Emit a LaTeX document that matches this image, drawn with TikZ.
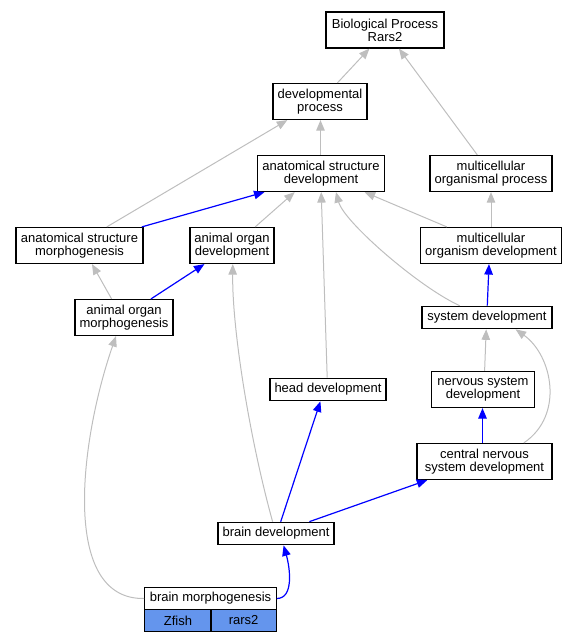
\documentclass[tikz,border=0pt]{standalone}
\usepackage{fontspec}
\setmainfont{Liberation Sans}
\usetikzlibrary{arrows.meta}
\definecolor{edgegray}{RGB}{190,190,190}
\definecolor{cellblue}{RGB}{100,149,237}
\begin{document}
\begin{tikzpicture}[x=1pt,y=-1pt,
  box/.style={draw=black, line width=1.2pt, fill=white, align=center, inner sep=0pt,
    minimum height=36pt, font=\fontsize{13}{13.2}\selectfont},
  sbox/.style={box, minimum height=22.5pt},
  cell/.style={sbox, fill=cellblue},
  gr/.style={draw=edgegray, line width=1pt, -{Triangle[length=10.5pt,width=8.5pt]}},
  bl/.style={draw=blue, line width=1.2pt, -{Triangle[length=10.5pt,width=8.5pt]}}]
\useasboundingbox (0,0) rectangle (579,643);
% nodes
\node[box, minimum width=118pt] (bp) at (385,30) {Biological Process\\Rars2};
\node[box, minimum width=94pt] (dp) at (320,101.5) {developmental\\process};
\node[box, minimum width=127pt] (asd) at (321,173.5) {anatomical structure\\development};
\node[box, minimum width=122pt] (mop) at (491,173.5) {multicellular\\organismal process};
\node[box, minimum width=127pt] (asm) at (79.5,245.5) {anatomical structure\\morphogenesis};
\node[box, minimum width=84pt] (aod) at (232,245.5) {animal organ\\development};
\node[box, minimum width=141pt] (mod) at (491,245.5) {multicellular\\organism development};
\node[box, minimum width=98pt] (aom) at (124,317.5) {animal organ\\morphogenesis};
\node[sbox, minimum width=130pt] (sd) at (487,317.5) {system development};
\node[box, minimum width=103pt] (nsd) at (483,389.5) {nervous system\\development};
\node[sbox, minimum width=116pt] (hd) at (328,389.5) {head development};
\node[box, minimum width=135pt] (cnsd) at (484.5,461.5) {central nervous\\system development};
\node[sbox, minimum width=116pt] (bd) at (276,533.5) {brain development};
\node[sbox, minimum width=131.4pt] (bm) at (210.5,598.5) {brain morphogenesis};
\node[cell, minimum width=66.2pt] (bmz) at (177.9,620.5) {Zfish};
\node[cell, minimum width=65.2pt] (bmr) at (243.6,620.5) {rars2};
% edges
\draw[gr] ([xshift=17.4pt]dp.north) -- ([xshift=-15.6pt]bp.south);
\draw[gr] ([xshift=-13.7pt]mop.north) -- ([xshift=13.9pt]bp.south);
\draw[gr] ([xshift=-0.5pt]asd.north) -- ([xshift=0.5pt]dp.south);
\draw[gr] ([xshift=27.3pt]asm.north) -- ([xshift=-32.7pt]dp.south);
\draw[bl] ([xshift=62.3pt]asm.north) -- ([xshift=-56.5pt]asd.south);
\draw[gr] ([xshift=23.2pt]aod.north) -- ([xshift=-26.3pt]asd.south);
\draw[gr] ([xshift=-0.8pt]hd.north) -- ([xshift=0.2pt]asd.south);
\draw[gr] ([xshift=-27.3pt]sd.north) .. controls +(-40,-18) and +(8,30) .. ([xshift=15pt]asd.south);
\draw[gr] ([xshift=-44.2pt]mod.north) -- ([xshift=43.6pt]asd.south);
\draw[gr] (mod.north) -- (mop.south);
\draw[gr] ([xshift=-12.4pt]aom.north) -- ([xshift=12.5pt]asm.south);
\draw[bl] ([xshift=27pt]aom.north) -- ([xshift=-27.6pt]aod.south);
\draw[bl] ([xshift=0.3pt]sd.north) -- ([xshift=-2pt]mod.south);
\draw[gr] ([xshift=1.6pt]nsd.north) -- ([xshift=-0.8pt]sd.south);
\draw[gr] ([xshift=39.3pt]cnsd.north) .. controls (565,415) and (552,355) .. ([xshift=28.6pt]sd.south);
\draw[bl] ([xshift=-2pt]cnsd.north) -- ([xshift=-0.5pt]nsd.south);
\draw[bl] ([xshift=4.7pt]bd.north) -- ([xshift=-7.6pt]hd.south);
\draw[bl] ([xshift=33.4pt]bd.north) -- ([xshift=-57.2pt]cnsd.south);
\draw[gr] ([xshift=-3.4pt]bd.north) .. controls (250,440) and (232,330) .. ([xshift=0.8pt]aod.south);
\draw[bl] (bm.east) .. controls (294,598.5) and (290,568) .. ([xshift=7.6pt]bd.south);
\draw[gr] (bm.west) .. controls (60,600) and (80,440) .. ([xshift=-8pt]aom.south);
\end{tikzpicture}
\end{document}
